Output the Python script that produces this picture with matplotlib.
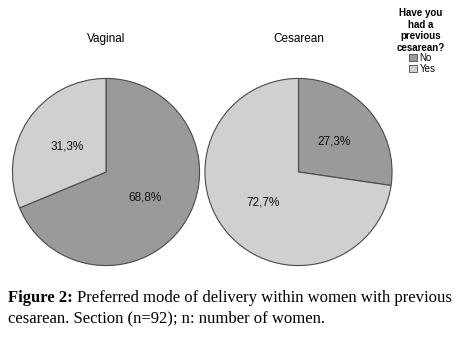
import matplotlib
matplotlib.use("Agg")
import matplotlib.pyplot as plt
from matplotlib.patches import Patch

# data
groups = ["Vaginal", "Cesarean"]
categories = ["No", "Yes"]
pct_no = [68.8, 27.3]
pct_yes = [31.3, 72.7]
colors = ["#9a9a9a", "#d0d0d0"]

W, H = 458, 340
fig = plt.figure(figsize=(W / 100, H / 100), dpi=100)
plt.rcParams['font.family'] = ['Liberation Sans', 'DejaVu Sans']

centers = [(106, 172), (298.5, 172)]
r = 94.5

for i, g in enumerate(groups):
    cx, cy = centers[i]
    ax = fig.add_axes([(cx - r) / W, 1 - (cy + r) / H, 2 * r / W, 2 * r / H])
    vals = [pct_no[i], pct_yes[i]]
    wedges, texts, autotexts = ax.pie(
        vals, colors=colors, startangle=90, counterclock=False,
        autopct="%.1f%%", pctdistance=0.5,
        wedgeprops=dict(edgecolor="#4a4a4a", linewidth=0.8),
        textprops=dict(fontsize=8.5, color="#111111"))
    # show the read values with a decimal comma
    for t, v in zip(autotexts, vals):
        t.set_text(("%.1f%%" % v).replace(".", ","))
    ax.set_xlim(-1.01, 1.01)
    ax.set_ylim(-1.01, 1.01)
    ax.set_aspect("equal")
    fig.text(cx / W, 1 - 39 / H, g, ha="center", va="center", fontsize=8.5)

# legend
fig.text(421 / W, 1 - 30.5 / H, "Have you\nhad a\nprevious\ncesarean?", ha="center",
         va="center", fontsize=7, fontweight="bold", linespacing=1.2)
handles = [Patch(facecolor=c, edgecolor="#4a4a4a", linewidth=0.6) for c in colors]
fig.legend(handles, categories, loc="upper left", bbox_to_anchor=(409 / W, 1 - 53 / H),
           frameon=False, fontsize=7, handlelength=0.8, handleheight=0.8,
           handletextpad=0.3, labelspacing=0.1, borderpad=0, borderaxespad=0)

# caption
cap_kw = dict(ha="left", va="baseline", fontsize=12, family="Liberation Serif")
t1 = fig.text(8 / W, 1 - 302 / H, "Figure 2:", fontweight="bold", **cap_kw)
fig.canvas.draw()
bb = t1.get_window_extent()
fig.text((bb.x1 + 4) / W, 1 - 302 / H,
         "Preferred mode of delivery within women with previous", **cap_kw)
fig.text(8 / W, 1 - 322 / H, "cesarean. Section (n=92); n: number of women.", **cap_kw)

fig.savefig("out.png", dpi=100)
